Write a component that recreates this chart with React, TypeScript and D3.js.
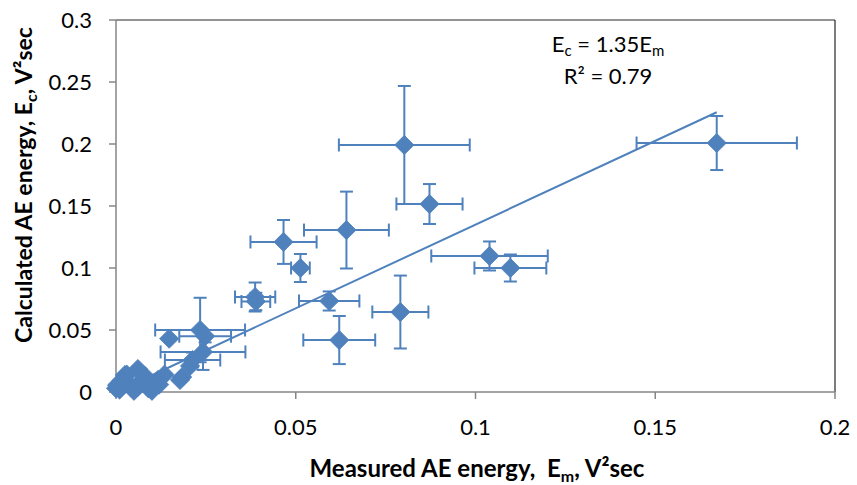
import React from "react";
import * as d3 from "d3";

// Measured AE energy (x), calculated AE energy (y) and their error half-widths
const measured = [
  0.1671, 0.1039, 0.1097, 0.0802, 0.0872, 0.0641, 0.0466, 0.0513, 0.0593, 0.0621,
  0.0791, 0.0387, 0.0389, 0.0234, 0.0248, 0.0242, 0.0213, 0.0148, 0.0184, 0.0178,
  0.0117, 0.0206, 0.0135, 0.009, 0.0061, 0.0025, 0.0003, 0.001, 0.004, 0.007,
  0.003, 0.010, 0.005, 0.008, 0.0, 0.012, 0.0015, 0.006,
];
const calculated = [
  0.2008, 0.1097, 0.1000, 0.1992, 0.1516, 0.1306, 0.1210, 0.1000, 0.0734, 0.0419,
  0.0645, 0.0766, 0.0730, 0.0500, 0.0450, 0.0323, 0.0258, 0.0430, 0.012, 0.0097,
  0.0097, 0.021, 0.014, 0.003, 0.0185, 0.0137, 0.0056, 0.002, 0.005, 0.009,
  0.014, 0.001, 0.001, 0.013, 0.003, 0.006, 0.009, 0.004,
];
const measuredErr = [
  0.0223, 0.0162, 0.0100, 0.0182, 0.0092, 0.0118, 0.0092, 0.0026, 0.0084, 0.0100,
  0.0078, 0.0056, 0.0040, 0.0125, 0.0072, 0.0118, 0.0077, 0, 0, 0,
  0, 0, 0, 0, 0, 0, 0, 0, 0, 0,
  0, 0, 0, 0, 0, 0, 0, 0,
];
const calculatedErr = [
  0.0218, 0.0117, 0.0109, 0.0476, 0.0161, 0.0310, 0.0177, 0.0113, 0.0077, 0.0194,
  0.0294, 0.0117, 0.0070, 0.0260, 0.0050, 0.0145, 0.0060, 0, 0, 0,
  0, 0, 0, 0, 0, 0, 0, 0, 0, 0,
  0, 0, 0, 0, 0, 0, 0, 0,
];

const xTicks = [0, 0.05, 0.1, 0.15, 0.2];
const xTickLabels = ["0", "0.05", "0.1", "0.15", "0.2"];
const yTicks = [0, 0.05, 0.1, 0.15, 0.2, 0.25, 0.3];
const yTickLabels = ["0", "0.05", "0.1", "0.15", "0.2", "0.25", "0.3"];
const slope = 1.35;
const rSquared = "0.79";

const W = 857;
const H = 485;
const left = 116;
const right = 835;
const top = 20;
const bottom = 392;
const blue = "#4F81BD";
const font = "Lato, 'Open Sans', sans-serif";

export default function App() {
  const x = d3.scaleLinear().domain([0, 0.2]).range([left, right]);
  const y = d3.scaleLinear().domain([0, 0.3]).range([bottom, top]);
  const pts = measured.map((m, i) => ({
    x: m,
    y: calculated[i],
    ex: measuredErr[i],
    ey: calculatedErr[i],
  }));
  const xMax = d3.max(measured) as number;
  const trend = d3.line<number>()
    .x((d) => x(d))
    .y((d) => y(d * slope))([0, xMax]);
  const diamond = d3.symbol().type(d3.symbolSquare).size(185)();
  const cap = 6.5;

  return (
    <svg
      width={W}
      height={H}
      style={{ position: "absolute", left: 0, top: 0, background: "#fff" }}
      fontFamily={font}
    >
      <rect x={0} y={0} width={W} height={H} fill="#fff" />
      {/* plot border */}
      <line x1={left} x2={right} y1={top} y2={top} stroke="#262626" strokeWidth={1.2} />
      <line x1={right} x2={right} y1={top} y2={bottom} stroke="#262626" strokeWidth={1.2} />
      {/* axes */}
      <line x1={left} x2={right} y1={bottom} y2={bottom} stroke="#868686" strokeWidth={1.5} />
      <line x1={left} x2={left} y1={top} y2={bottom} stroke="#868686" strokeWidth={1.5} />
      {xTicks.map((t, i) => (
        <g key={"xt" + i}>
          <line x1={x(t)} x2={x(t)} y1={bottom} y2={bottom + 7} stroke="#868686" strokeWidth={1.5} />
          <text x={x(t)} y={435} textAnchor="middle" fontSize={22} fill="#000">
            {xTickLabels[i]}
          </text>
        </g>
      ))}
      {yTicks.map((t, i) => (
        <g key={"yt" + i}>
          <line x1={left - 7} x2={left} y1={y(t)} y2={y(t)} stroke="#868686" strokeWidth={1.5} />
          <text x={92} y={y(t) + 8} textAnchor="end" fontSize={22} fill="#000">
            {yTickLabels[i]}
          </text>
        </g>
      ))}
      {/* trendline */}
      <path d={trend || ""} fill="none" stroke={blue} strokeWidth={2} />
      {/* error bars */}
      {pts.map((p, i) =>
        p.ex > 0 || p.ey > 0 ? (
          <g key={"e" + i} stroke={blue} strokeWidth={2} fill="none">
            <line x1={x(p.x - p.ex)} x2={x(p.x + p.ex)} y1={y(p.y)} y2={y(p.y)} />
            <line x1={x(p.x - p.ex)} x2={x(p.x - p.ex)} y1={y(p.y) - cap} y2={y(p.y) + cap} />
            <line x1={x(p.x + p.ex)} x2={x(p.x + p.ex)} y1={y(p.y) - cap} y2={y(p.y) + cap} />
            <line x1={x(p.x)} x2={x(p.x)} y1={y(p.y - p.ey)} y2={y(p.y + p.ey)} />
            <line x1={x(p.x) - cap} x2={x(p.x) + cap} y1={y(p.y + p.ey)} y2={y(p.y + p.ey)} />
            <line x1={x(p.x) - cap} x2={x(p.x) + cap} y1={y(p.y - p.ey)} y2={y(p.y - p.ey)} />
          </g>
        ) : null
      )}
      {/* markers */}
      {pts.map((p, i) => (
        <path
          key={"m" + i}
          d={diamond || ""}
          transform={`translate(${x(p.x)},${y(p.y)}) rotate(45)`}
          fill={blue}
          stroke={blue}
          strokeWidth={0.8}
        />
      ))}
      {/* annotation */}
      <text x={608} y={52} textAnchor="middle" fontSize={22} fill="#000">
        E<tspan fontSize={15} dy={4}>c</tspan>
        <tspan dy={-4}> = 1.35E</tspan>
        <tspan fontSize={15} dy={4}>m</tspan>
      </text>
      <text x={608} y={84} textAnchor="middle" fontSize={22} fill="#000">
        R² = {rSquared}
      </text>
      {/* axis titles */}
      <text x={477} y={477} textAnchor="middle" fontSize={24} fontWeight="bold" fill="#000">
        {"Measured AE energy,\u00a0\u00a0E"}
        <tspan fontSize={16} dy={5}>m</tspan>
        <tspan dy={-5}>, V²sec</tspan>
      </text>
      <text
        transform="translate(32,185) rotate(-90)"
        textAnchor="middle"
        fontSize={23}
        fontWeight="bold"
        fill="#000"
      >
        Calculated AE energy, E<tspan fontSize={16} dy={5}>c</tspan>
        <tspan dy={-5}>, V²sec</tspan>
      </text>
    </svg>
  );
}
